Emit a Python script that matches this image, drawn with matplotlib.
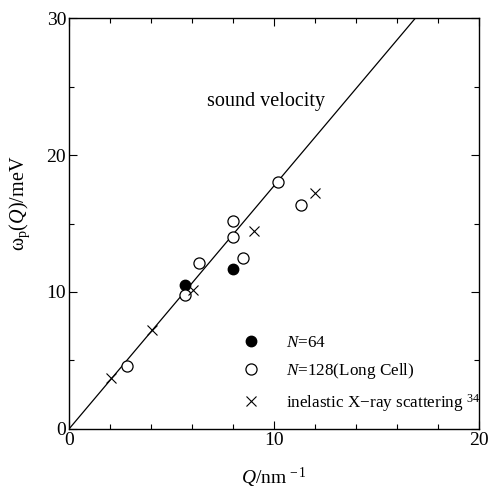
import matplotlib
matplotlib.use("Agg")
import matplotlib.pyplot as plt
from matplotlib.lines import Line2D
from matplotlib.ticker import MultipleLocator

# data
q_n64 = [5.66, 8.0]
w_n64 = [10.5, 11.7]

q_n128 = [2.85, 5.66, 6.34, 8.0, 8.0, 8.49, 10.21, 11.32]
w_n128 = [4.6, 9.8, 12.15, 14.0, 15.2, 12.5, 18.0, 16.35]

q_ixs = [2.03, 4.05, 6.06, 9.02, 12.01]
w_ixs = [3.75, 7.2, 10.15, 14.45, 17.2]

# sound velocity line: omega = c * Q
q_line = [0.0, 20.0]
sound_slope = 1.775

plt.rcParams['font.family'] = ['Liberation Serif', 'DejaVu Serif']
plt.rcParams['mathtext.fontset'] = 'custom'
plt.rcParams['mathtext.rm'] = 'Liberation Serif'
plt.rcParams['mathtext.it'] = 'Liberation Serif:italic'

fig = plt.figure(figsize=(4.88, 4.91), dpi=100)
ax = fig.add_axes([0.1414, 0.1263, 0.8402, 0.837])

ax.plot(q_line, [sound_slope * q for q in q_line], color='black', lw=0.9)
ax.plot(q_n64, w_n64, 'o', color='black', ms=7.5, ls='none')
ax.plot(q_n128, w_n128, 'o', mfc='white', mec='black', mew=0.9, ms=8, ls='none')
ax.plot(q_ixs, w_ixs, 'x', color='black', mew=0.8, ms=6.5, ls='none')

ax.text(9.6, 23.9, 'sound velocity', fontsize=14.5, ha='center', va='center')

ax.set_xlim(0, 20)
ax.set_ylim(0, 30)
ax.xaxis.set_major_locator(MultipleLocator(10))
ax.xaxis.set_minor_locator(MultipleLocator(2))
ax.yaxis.set_major_locator(MultipleLocator(10))
ax.yaxis.set_minor_locator(MultipleLocator(5))
ax.tick_params(which='both', direction='in', top=True, right=True, width=0.8,
               labelsize=14, pad=2)
ax.tick_params(which='major', length=6)
ax.tick_params(which='minor', length=3.5)
for s in ax.spines.values():
    s.set_linewidth(1.0)

ax.set_xlabel('$Q$/nm$^{\\,-1}$', fontsize=14, labelpad=12)
ax.set_ylabel('ω$_{\\mathrm{p}}$($Q$)/meV', fontsize=14.5)
ax.yaxis.set_label_coords(-0.09, 0.55)

handles = [
    Line2D([], [], marker='o', color='black', ls='none', ms=7.5),
    Line2D([], [], marker='o', mfc='white', mec='black', mew=0.9, ls='none', ms=8),
    Line2D([], [], marker='x', color='black', mew=0.8, ls='none', ms=6.5),
]
labels = ['$N$=64', '$N$=128(Long Cell)', 'inelastic X\u2212ray scattering $^{34}$']
ax.legend(handles, labels, loc='lower left', bbox_to_anchor=(0.375, 0.0),
          frameon=False, fontsize=12.3, handletextpad=1.3, labelspacing=0.6,
          handlelength=1.5)

fig.savefig('out.png', dpi=100)
